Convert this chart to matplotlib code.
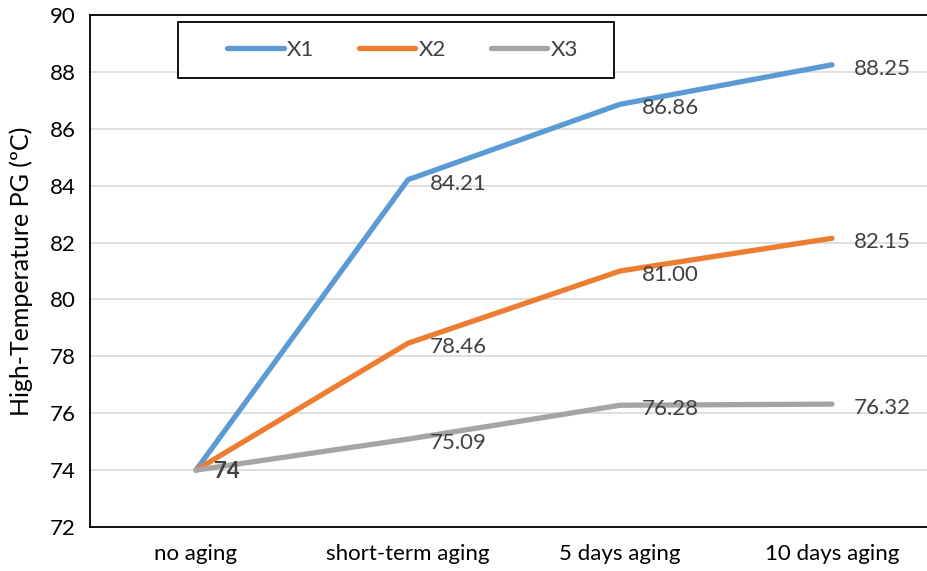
import matplotlib
matplotlib.use("Agg")
import matplotlib.pyplot as plt
from matplotlib.patches import Rectangle

categories = ["no aging", "short-term aging", "5 days aging", "10 days aging"]
x1 = [74, 84.21, 86.86, 88.25]
x2 = [74, 78.46, 81.00, 82.15]
x3 = [74, 75.09, 76.28, 76.32]
series_names = ["X1", "X2", "X3"]
colors = ["#5B9BD5", "#ED7D31", "#A5A5A5"]
yticks = [72, 74, 76, 78, 80, 82, 84, 86, 88, 90]

plt.rcParams["font.family"] = ["Lato", "DejaVu Sans"]
FS = 16

W, H = 927, 571
fig = plt.figure(figsize=(W / 100, H / 100), dpi=100)
ax_left, ax_w = 90 / W, (938 - 90) / W
ax = fig.add_axes([ax_left, (H - 527) / H, ax_w, (527 - 15) / H])

xs = list(range(len(categories)))
for vals, name, c in zip([x1, x2, x3], series_names, colors):
    ax.plot(xs, vals, color=c, lw=3.8, solid_capstyle="round",
            solid_joinstyle="round", label=name, zorder=3)

# value labels
for vals in [x1, x2, x3]:
    for i, v in enumerate(vals[1:], start=1):
        ax.annotate(f"{v:.2f}", (i, v), xytext=(16, -3), textcoords="offset points",
                    ha="left", va="center", fontsize=FS, color="#404040", zorder=4)
ax.annotate(f"{x1[0]:g}", (0, x1[0]), xytext=(13, -1), textcoords="offset points",
            ha="left", va="center", fontsize=FS, color="#404040",
            fontweight="bold", zorder=4)

ax.set_xlim(-0.5, 3.5)
ax.set_ylim(72, 90)
ax.set_yticks(yticks)
ax.set_xticks(xs)
ax.set_xticklabels(categories)
ax.tick_params(axis="both", length=0, labelsize=FS, colors="#000000")
ax.tick_params(axis="x", pad=12)
ax.tick_params(axis="y", pad=10)
ax.yaxis.grid(True, color="#D9D9D9", lw=1.2)
ax.set_axisbelow(True)
for side in ["left", "bottom", "top"]:
    ax.spines[side].set_color("#000000")
    ax.spines[side].set_linewidth(1.3)
ax.spines["right"].set_visible(False)
ax.set_ylabel("High-Temperature PG (\u00baC)", fontsize=18)
ax.yaxis.set_label_coords((33 / W - ax_left) / ax_w, 0.5)

# legend entries, with a square frame drawn around them
ax.add_patch(Rectangle((178 / W, (H - 78) / H), (614 - 178) / W, 56 / H,
                       transform=fig.transFigure, clip_on=False, fill=True,
                       facecolor="white", edgecolor="#000000", lw=1.3,
                       zorder=5))
leg = ax.legend(ncol=3, loc="center left", frameon=False,
                bbox_to_anchor=(227 / W, (H - 50) / H),
                bbox_transform=fig.transFigure, fontsize=FS,
                handlelength=2.55, handletextpad=0.15, columnspacing=2.0,
                borderpad=0.0, borderaxespad=0.0, labelcolor="#404040")
leg.set_zorder(6)

fig.savefig("out.png", dpi=100)
